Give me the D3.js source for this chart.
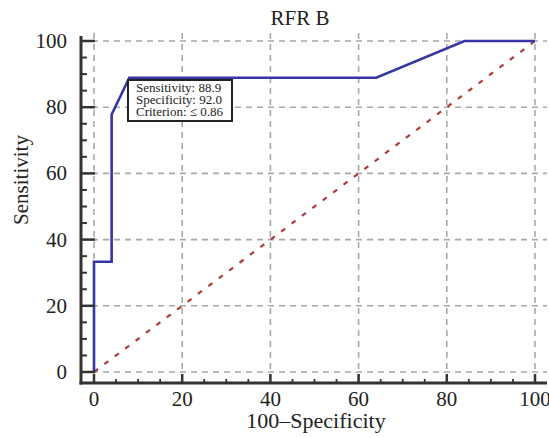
<!DOCTYPE html>
<html>
<head>
<meta charset="utf-8">
<script src="https://cdn.jsdelivr.net/npm/d3@7"></script>
<style>
  body { margin: 0; background: #fff; }
  text { font-family: "Liberation Serif", "DejaVu Serif", serif; fill: #222; }
</style>
</head>
<body>
<div id="chart"></div>
<script>
const width = 549;
const height = 437;

// ROC curve points (100-Specificity, Sensitivity)
const fpr = [0, 0, 4, 4, 8, 64, 84, 100];
const tpr = [0, 33.3, 33.3, 77.8, 88.9, 88.9, 100, 100];
const majorTicks = [0, 20, 40, 60, 80, 100];
const minorTicks = d3.range(0, 101, 5).filter(d => d % 20 !== 0);
const criterionLines = ['Sensitivity: 88.9', 'Specificity: 92.0', 'Criterion: \u2264 0.86'];

const x = d3.scaleLinear().domain([0, 100]).range([94, 535]);
const y = d3.scaleLinear().domain([0, 100]).range([372, 41]);

const svg = d3.select('#chart')
    .append('svg')
    .attr('width', width)
    .attr('height', height);

const axisX = 81;
const axisY = 383;

// grid
svg.append('g')
    .selectAll('line.h')
    .data(majorTicks)
    .enter()
    .append('line')
    .attr('x1', axisX)
    .attr('x2', 547)
    .attr('y1', d => y(d))
    .attr('y2', d => y(d))
    .attr('stroke', '#a8a8a8')
    .attr('stroke-width', 1.6)
    .attr('stroke-dasharray', '6,5');

svg.append('g')
    .selectAll('line.v')
    .data(majorTicks)
    .enter()
    .append('line')
    .attr('x1', d => x(d))
    .attr('x2', d => x(d))
    .attr('y1', 33)
    .attr('y2', axisY)
    .attr('stroke', '#a8a8a8')
    .attr('stroke-width', 1.6)
    .attr('stroke-dasharray', '6,5');

// reference diagonal
svg.append('line')
    .attr('x1', x(0)).attr('y1', y(0))
    .attr('x2', x(100)).attr('y2', y(100))
    .attr('stroke', '#b03a3a')
    .attr('stroke-width', 2.2)
    .attr('stroke-dasharray', '5,8');

// ROC curve
const line = d3.line()
    .x(d => x(d[0]))
    .y(d => y(d[1]));

svg.append('path')
    .datum(d3.zip(fpr, tpr))
    .attr('fill', 'none')
    .attr('stroke', '#3535a5')
    .attr('stroke-width', 2.6)
    .attr('d', line);

// axes
svg.append('line')
    .attr('x1', axisX).attr('x2', axisX)
    .attr('y1', 36).attr('y2', axisY + 1.5)
    .attr('stroke', '#333').attr('stroke-width', 3);
svg.append('line')
    .attr('x1', axisX - 1.5).attr('x2', 547)
    .attr('y1', axisY).attr('y2', axisY)
    .attr('stroke', '#333').attr('stroke-width', 3);

// y ticks
svg.append('g')
    .selectAll('line')
    .data(majorTicks)
    .enter()
    .append('line')
    .attr('x1', axisX).attr('x2', axisX + 14)
    .attr('y1', d => y(d)).attr('y2', d => y(d))
    .attr('stroke', '#333').attr('stroke-width', 2.5);
svg.append('g')
    .selectAll('line')
    .data(minorTicks)
    .enter()
    .append('line')
    .attr('x1', axisX).attr('x2', axisX + 6)
    .attr('y1', d => y(d)).attr('y2', d => y(d))
    .attr('stroke', '#333').attr('stroke-width', 2);

// x ticks
svg.append('g')
    .selectAll('line')
    .data(majorTicks)
    .enter()
    .append('line')
    .attr('x1', d => x(d)).attr('x2', d => x(d))
    .attr('y1', axisY).attr('y2', axisY - 9)
    .attr('stroke', '#333').attr('stroke-width', 2.5);
svg.append('g')
    .selectAll('line')
    .data(minorTicks)
    .enter()
    .append('line')
    .attr('x1', d => x(d)).attr('x2', d => x(d))
    .attr('y1', axisY).attr('y2', axisY - 4)
    .attr('stroke', '#333').attr('stroke-width', 1.8);

// tick labels
svg.append('g')
    .selectAll('text')
    .data(majorTicks)
    .enter()
    .append('text')
    .attr('x', 67)
    .attr('y', d => y(d) + 7)
    .attr('text-anchor', 'end')
    .attr('font-size', 21)
    .text(d => d);

svg.append('g')
    .selectAll('text')
    .data(majorTicks)
    .enter()
    .append('text')
    .attr('x', d => x(d))
    .attr('y', 406)
    .attr('text-anchor', 'middle')
    .attr('font-size', 21)
    .text(d => d);

// titles
svg.append('text')
    .attr('x', 300)
    .attr('y', 25)
    .attr('text-anchor', 'middle')
    .attr('font-size', 21)
    .text('RFR B');

svg.append('text')
    .attr('x', 316)
    .attr('y', 428)
    .attr('text-anchor', 'middle')
    .attr('font-size', 22)
    .text('100\u2013Specificity');

svg.append('text')
    .attr('transform', 'translate(28,180) rotate(-90)')
    .attr('text-anchor', 'middle')
    .attr('font-size', 21)
    .text('Sensitivity');

// criterion box
const box = svg.append('g').attr('transform', 'translate(128,80)');
box.append('rect')
    .attr('width', 104)
    .attr('height', 41)
    .attr('fill', '#fff')
    .attr('stroke', '#222')
    .attr('stroke-width', 2);
box.selectAll('text')
    .data(criterionLines)
    .enter()
    .append('text')
    .attr('x', 8)
    .attr('y', (d, i) => 12 + i * 11.8)
    .attr('font-size', 13)
    .text(d => d);
</script>
</body>
</html>
